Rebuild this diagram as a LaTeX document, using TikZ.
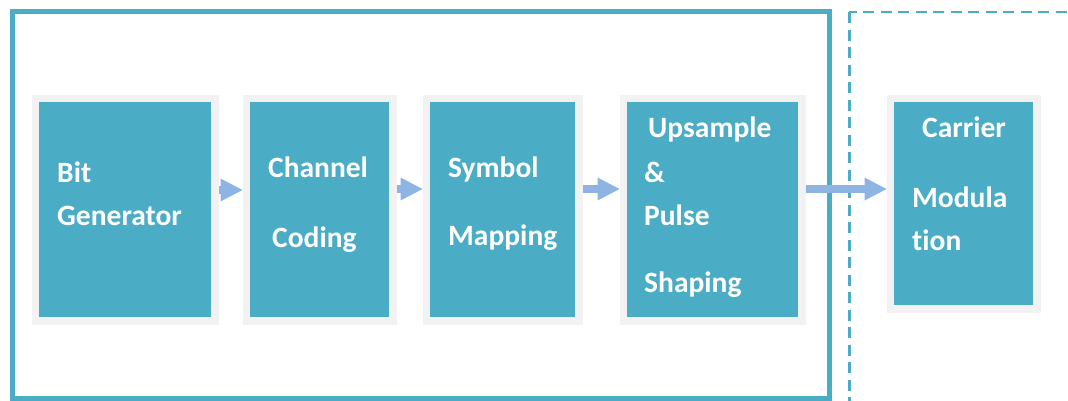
\documentclass[tikz,border=0pt]{standalone}
\usepackage{fontspec}
\setmainfont[Ligatures=NoCommon]{Carlito}
\usetikzlibrary{arrows.meta}
\definecolor{blockteal}{HTML}{4BACC6}
\definecolor{framegray}{HTML}{F2F2F2}
\definecolor{flowblue}{HTML}{8EB4E3}
\tikzset{
  block/.style={draw=framegray, line width=7.5pt, fill=blockteal,
    rectangle, inner sep=0pt, minimum width=#1, minimum height=222.5pt},
  label/.style={anchor=base west, inner sep=0pt, text=white,
    font=\fontsize{29.5}{30}\selectfont\bfseries},
  flow/.style={draw=flowblue, line width=7.5pt,
    -{Triangle[length=22pt,width=23pt,line width=0pt,fill=flowblue]}},
  group/.style={draw=blockteal, line width=5pt},
  stage/.style={draw=blockteal, line width=2.4pt, dash pattern=on 11pt off 6.5pt}
}
\begin{document}
\begin{tikzpicture}[x=1pt,y=-1pt]
  \useasboundingbox (0,0) rectangle (1068,400);
  \clip (0,0) rectangle (1068,400);
  \fill[white] (0,0) rectangle (1068,400);

  % baseband transmitter group and the following RF stage
  \draw[group] (12.5,11.5) rectangle (829.5,398);
  \draw[stage] (849.3,12) rectangle (1100,430);

  % processing blocks
  \node[block=179.5pt] (bitgen) at (125,209.5) {};
  \node[block=146.5pt] (chcode) at (319.5,209.5) {};
  \node[block=152.5pt] (symmap) at (502.5,209.5) {};
  \node[block=178.5pt] (pulse)  at (712.5,209.5) {};
  \node[block=146.5pt, minimum height=210.5pt] (carrier) at (963.5,203.5) {};

  % block captions
  \node[label] (bitgenA) at (57,182) {Bit};
  \node[label] (bitgenB) at (57,225) {Generator};
  \node[label] (chcodeA) at (268,177) {Channel};
  \node[label] (chcodeB) at (272,247) {Coding};
  \node[label] (symmapA) at (448,177) {Symbol};
  \node[label] (symmapB) at (448,245) {Mapping};
  \node[label] (pulseA)  at (648,137) {Upsample};
  \node[label] (pulseB)  at (644,182) {\&};
  \node[label] (pulseC)  at (644,225) {Pulse};
  \node[label] (pulseD)  at (644,292) {Shaping};
  \node[label] (carrierA) at (922,137) {Carrier};
  \node[label] (carrierB) at (912,207) {Modula};
  \node[label] (carrierC) at (912,250) {tion};

  % signal flow
  \draw[flow] (bitgen.east |- 0,190) -- (chcode.west |- 0,190);
  \draw[flow] (chcode.east |- 0,189) -- (symmap.west |- 0,189);
  \draw[flow] (symmap.east |- 0,189) -- (pulse.west |- 0,189);
  \draw[flow] (pulse.east |- 0,189) -- (carrier.west |- 0,189);
\end{tikzpicture}
\end{document}
